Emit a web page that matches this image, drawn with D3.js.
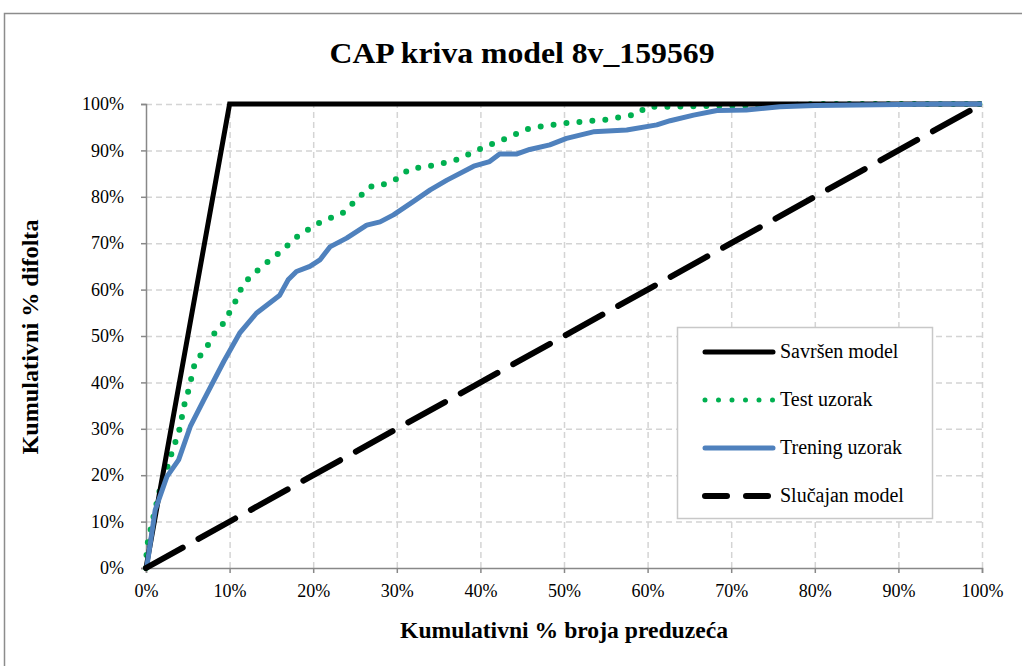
<!DOCTYPE html>
<html><head><meta charset="utf-8">
<script src="https://cdn.jsdelivr.net/npm/d3@7"></script>
<style>body{margin:0;background:#fff}svg{display:block}svg text{font-family:"Times New Roman","Liberation Serif","DejaVu Serif",Times,serif !important}</style>
</head><body><svg id="c" width="1022" height="666"></svg>
<script>
const xTicks = [0,10,20,30,40,50,60,70,80,90,100];
const yTicks = [0,10,20,30,40,50,60,70,80,90,100];
const perfectX = [0,10,100];
const perfectY = [0,100,100];
const randomX = [0,100];
const randomY = [0,100];
const trainX = [0,0.1,1.1,2.5,3.9,5.3,6.9,9.3,11.2,13.2,16.0,17.0,18.0,19.6,20.8,22.0,24.0,26.4,28.0,29.6,32.0,34.0,36.0,39.2,41.1,42.3,44.3,45.9,48.3,50.3,53.5,57.5,61.1,62.7,65.5,68.3,71.8,75.8,80,95,100];
const trainY = [0,0.3,12.5,19.7,23.3,30.5,36.2,44.5,50.6,54.9,58.8,62.1,63.9,65.0,66.4,69.2,71.1,73.9,74.6,76.1,79.0,81.5,83.6,86.6,87.6,89.2,89.2,90.2,91.2,92.6,94.0,94.4,95.5,96.4,97.6,98.6,98.7,99.4,99.7,100,100];
const testX = [0,0.1,0.9,1.7,2.3,3.3,3.9,4.6,5.1,5.9,6.9,7.7,8.4,9.5,10.1,10.9,11.6,13.8,16.0,18.2,20.6,23.6,26.8,27.8,30.4,31.4,34.8,37.0,40.6,42.3,45.9,49.7,54.9,58.7,59.9,61.9,68.3,75.4,80,100];
const testY = [0,4.6,11.1,17.2,20.2,26.1,29.0,35.3,38.4,44.6,46.6,48.9,51.3,53.1,55.6,58.1,61.2,64.9,68.0,71.6,74.3,76.6,82.2,82.2,84.2,85.9,86.9,87.9,90.8,92.0,94.8,95.8,96.6,97.8,99.4,99.4,99.6,99.6,100,100];
const seriesNames = ["Savršen model","Test uzorak","Trening uzorak","Slučajan model"];

const FONT = "'Times New Roman','Liberation Serif','DejaVu Serif',serif";
const svg = d3.select("#c").attr("font-family",FONT);
const x = d3.scaleLinear().domain([0,100]).range([146,982]);
const y = d3.scaleLinear().domain([0,100]).range([568,104]);

// outer border
svg.append("rect").attr("x",4.5).attr("y",13.5).attr("width",1030).attr("height",670)
  .attr("fill","none").attr("stroke","#8c8c8c").attr("stroke-width",1.5);

// title
svg.append("text").attr("x",522).attr("y",63).attr("text-anchor","middle").attr("font-family",FONT)
  .attr("font-size",30).attr("font-weight","bold")
  .attr("textLength",385).attr("lengthAdjust","spacingAndGlyphs").text("CAP kriva model 8v_159569");

// grid
const grid = svg.append("g");
grid.selectAll("line.h").data(yTicks.slice(1)).join("line")
  .attr("x1",x(0)).attr("x2",x(100)).attr("y1",d=>y(d)+0.5).attr("y2",d=>y(d)+0.5)
  .attr("stroke","#d4d4d4").attr("stroke-width",1.5).attr("stroke-dasharray","6,4");
grid.selectAll("line.v").data(xTicks.slice(1)).join("line")
  .attr("y1",y(0)).attr("y2",y(100)).attr("x1",d=>x(d)+0.5).attr("x2",d=>x(d)+0.5)
  .attr("stroke","#d4d4d4").attr("stroke-width",1.5).attr("stroke-dasharray","6,4");

// axes
const xAxis = d3.axisBottom(x).tickValues(xTicks).tickFormat(d=>d+"%").tickSize(5).tickPadding(11);
const yAxis = d3.axisLeft(y).tickValues(yTicks).tickFormat(d=>d+"%").tickSize(5).tickPadding(17);
const gx = svg.append("g").attr("transform",`translate(0,${y(0)})`).call(xAxis);
const gy = svg.append("g").attr("transform",`translate(${x(0)},0)`).call(yAxis);
[gx,gy].forEach(g=>{
  g.attr("font-family",FONT);
  g.select(".domain").attr("stroke","#888").attr("stroke-width",1.5);
  g.selectAll(".tick line").attr("stroke","#888").attr("stroke-width",1.5);
  g.selectAll(".tick text").attr("font-size",18).attr("fill","#000").attr("font-family",FONT);
});

// axis titles
svg.append("text").attr("x",564).attr("y",638).attr("text-anchor","middle").attr("font-family",FONT)
  .attr("font-size",23).attr("font-weight","bold")
  .attr("textLength",328).attr("lengthAdjust","spacingAndGlyphs").text("Kumulativni % broja preduzeća");
svg.append("text").attr("transform","translate(38,337) rotate(-90)").attr("text-anchor","middle").attr("font-family",FONT)
  .attr("font-size",23).attr("font-weight","bold")
  .attr("textLength",235).attr("lengthAdjust","spacingAndGlyphs").text("Kumulativni % difolta");

const line = d3.line().x(d=>x(d[0])).y(d=>y(d[1]));
const plot = svg.append("g");
plot.append("path").datum(d3.zip(testX,testY)).attr("d",line).attr("fill","none")
  .attr("stroke","#00B050").attr("stroke-width",6).attr("stroke-linecap","round")
  .attr("stroke-dasharray","0,13");
plot.append("path").datum(d3.zip(perfectX,perfectY)).attr("d",line).attr("fill","none")
  .attr("stroke","#000").attr("stroke-width",5);
plot.append("path").datum(d3.zip(trainX,trainY)).attr("d",line).attr("fill","none")
  .attr("stroke","#4F81BD").attr("stroke-width",5).attr("stroke-linejoin","round");
plot.append("path").datum(d3.zip(randomX,randomY)).attr("d",line).attr("fill","none")
  .attr("stroke","#000").attr("stroke-width",6).attr("stroke-linecap","round")
  .attr("stroke-dasharray","42,18");

// legend
const lg = svg.append("g");
lg.append("rect").attr("x",677.5).attr("y",327.5).attr("width",255).attr("height",191)
  .attr("fill","#fff").attr("stroke","#c8c8c8").attr("stroke-width",1.5);
const ly = [352,400,448,496];
const styles = [
  {c:"#000",w:5,da:null},
  {c:"#00B050",w:5,da:"0,13.5"},
  {c:"#4F81BD",w:5,da:null},
  {c:"#000",w:6,da:"22,19"}];
seriesNames.forEach((n,i)=>{
  const s = styles[i];
  const l = lg.append("line").attr("x1",705).attr("x2",773).attr("y1",ly[i]).attr("y2",ly[i])
    .attr("stroke",s.c).attr("stroke-width",s.w).attr("stroke-linecap","round");
  if(s.da) l.attr("stroke-dasharray",s.da);
  lg.append("text").attr("x",780).attr("y",ly[i]+6).attr("font-size",20).attr("font-family",FONT).text(n);
});
</script></body></html>
